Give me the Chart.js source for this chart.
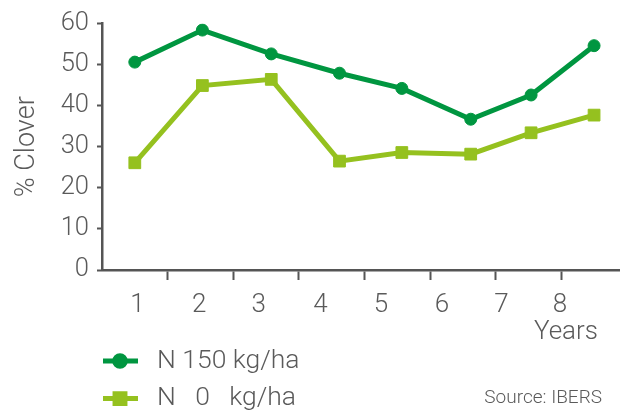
<!DOCTYPE html>
<html>
<head>
<meta charset="utf-8">
<script src="https://cdn.jsdelivr.net/npm/chart.js@4"></script>
<style>
  body { margin: 0; background: #fff; }
  #wrap { width: 631px; height: 414px; }
</style>
</head>
<body>
<div id="wrap"><canvas id="chart" width="631" height="414"></canvas></div>
<script>
// sampling positions along the x axis (axis units, tick marks sit on whole numbers)
const samplePositions = [0.5, 1.53, 2.58, 3.62, 4.57, 5.62, 6.54, 7.5];
const n150Values = [50.6, 58.4, 52.6, 47.9, 44.2, 36.7, 42.6, 54.6];
const n0Values = [26.1, 44.9, 46.4, 26.5, 28.6, 28.2, 33.4, 37.7];

const yearLabels = ['1', '2', '3', '4', '5', '6', '7', '8'];
const yearLabelPositions = [0.54, 1.48, 2.39, 3.33, 4.25, 5.18, 6.09, 6.98];
const tickMarkPositions = [1, 2, 3, 4, 5, 6, 7];

const DARK_GREEN = '#009640';
const LIGHT_GREEN = '#95c11f';
const AXIS_GREY = '#555555';
const TEXT_GREY = '#5a5a5a';

Chart.defaults.font.family = 'Roboto';
Chart.defaults.font.weight = '300';
Chart.defaults.color = TEXT_GREY;

function toPoints(values) {
    return values.map(function (v, i) { return { x: samplePositions[i], y: v }; });
}

// legend, axis name and source note drawn under the plot
const notesPlugin = {
    id: 'notes',
    afterDraw: function (chart) {
        const ctx = chart.ctx;
        ctx.save();
        ctx.fillStyle = TEXT_GREY;
        ctx.textBaseline = 'middle';

        ctx.font = '300 26px Roboto';
        ctx.textAlign = 'right';
        ctx.fillText('Years', 598, 332);

        chart.data.datasets.forEach(function (ds, i) {
            const y = 361 + i * 37.6;
            ctx.strokeStyle = ds.borderColor;
            ctx.lineWidth = 5;
            ctx.beginPath();
            ctx.moveTo(103, y);
            ctx.lineTo(138, y);
            ctx.stroke();
            ctx.fillStyle = ds.borderColor;
            Chart.helpers.drawPoint(ctx, {
                pointStyle: ds.pointStyle,
                radius: ds.pointStyle === 'rect' ? 7 : 5.3,
                borderWidth: 1,
                rotation: 0
            }, 120, y);
            ctx.fill();
            ctx.fillStyle = TEXT_GREY;
            ctx.textAlign = 'left';
            ctx.font = '300 26.5px Roboto';
            ctx.fillText(ds.label, 157, y);
        });

        ctx.font = '300 19px Roboto';
        ctx.textAlign = 'right';
        ctx.fillText('Source: IBERS', 602, 398);
        ctx.restore();
    }
};

new Chart(document.getElementById('chart'), {
    type: 'line',
    data: {
        datasets: [{
            label: 'N 150 kg/ha',
            data: toPoints(n150Values),
            borderColor: DARK_GREEN,
            backgroundColor: DARK_GREEN,
            pointBorderColor: DARK_GREEN,
            borderWidth: 5,
            pointStyle: 'circle',
            pointRadius: 6,
            pointBorderWidth: 1,
            tension: 0
        }, {
            label: 'N   0   kg/ha',
            data: toPoints(n0Values),
            borderColor: LIGHT_GREEN,
            backgroundColor: LIGHT_GREEN,
            pointBorderColor: LIGHT_GREEN,
            borderWidth: 5,
            pointStyle: 'rect',
            pointRadius: 8.3,
            pointBorderWidth: 1,
            tension: 0
        }]
    },
    options: {
        responsive: false,
        animation: false,
        layout: { padding: { top: 23.5, right: 12, left: 0, bottom: 0 } },
        plugins: {
            legend: { display: false },
            tooltip: { enabled: false }
        },
        scales: {
            x: {
                type: 'linear',
                position: 'bottom',
                weight: 0,
                min: 0,
                max: 7.88,
                afterBuildTicks: function (scale) {
                    scale.ticks = tickMarkPositions.map(function (v) { return { value: v }; });
                },
                ticks: { display: false },
                grid: { drawOnChartArea: false, tickLength: 10, tickWidth: 2, tickColor: AXIS_GREY },
                border: { color: AXIS_GREY, width: 2.5 }
            },
            years: {
                type: 'linear',
                position: 'bottom',
                weight: 1,
                min: 0,
                max: 7.88,
                afterBuildTicks: function (scale) {
                    scale.ticks = yearLabelPositions.map(function (v) { return { value: v }; });
                },
                afterFit: function (scale) { scale.height = 134; },
                grid: { display: false },
                border: { display: false },
                ticks: {
                    autoSkip: false,
                    maxRotation: 0,
                    padding: 2,
                    font: { size: 26, weight: '300' },
                    callback: function (value, index) { return yearLabels[index]; }
                }
            },
            y: {
                min: 0,
                max: 60,
                afterFit: function (scale) { scale.width = 102; },
                ticks: { stepSize: 10, padding: 8, font: { size: 25.5, weight: '300' } },
                grid: { drawOnChartArea: false, tickLength: 5, tickWidth: 2, tickColor: AXIS_GREY },
                border: { color: AXIS_GREY, width: 2.5 },
                title: {
                    display: true,
                    text: '% Clover',
                    font: { size: 27, weight: '300' },
                    padding: { top: 11, bottom: 0 }
                }
            }
        }
    },
    plugins: [notesPlugin]
});
</script>
</body>
</html>
